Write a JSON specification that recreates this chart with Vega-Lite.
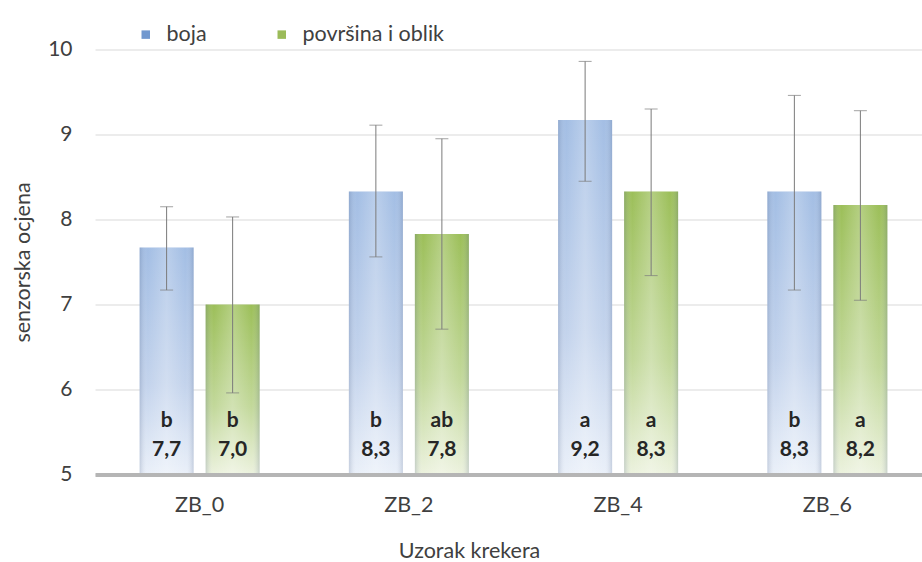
{
  "$schema": "https://vega.github.io/schema/vega-lite/v6.json",
  "width": 827,
  "height": 425,
  "autosize": {"type": "none"},
  "padding": {"left": 95, "top": 49.5, "right": 0, "bottom": 87.5},
  "background": "white",
  "data": {
    "values": [
      {"sample": "ZB_0", "series": "boja", "mean": 7.67, "low": 7.17, "high": 8.15, "letter": "b"},
      {"sample": "ZB_0", "series": "površina i oblik", "mean": 7.0, "low": 5.96, "high": 8.03, "letter": "b"},
      {"sample": "ZB_2", "series": "boja", "mean": 8.33, "low": 7.56, "high": 9.11, "letter": "b"},
      {"sample": "ZB_2", "series": "površina i oblik", "mean": 7.83, "low": 6.71, "high": 8.95, "letter": "ab"},
      {"sample": "ZB_4", "series": "boja", "mean": 9.17, "low": 8.45, "high": 9.86, "letter": "a"},
      {"sample": "ZB_4", "series": "površina i oblik", "mean": 8.33, "low": 7.34, "high": 9.3, "letter": "a"},
      {"sample": "ZB_6", "series": "boja", "mean": 8.33, "low": 7.17, "high": 9.46, "letter": "b"},
      {"sample": "ZB_6", "series": "površina i oblik", "mean": 8.17, "low": 7.05, "high": 9.28, "letter": "a"}
    ]
  },
  "encoding": {
    "x": {
      "field": "sample",
      "type": "nominal",
      "scale": {"range": [0, 837], "paddingInner": 0, "paddingOuter": 0},
      "axis": {
        "title": "Uzorak krekera",
        "labelAngle": 0,
        "ticks": false,
        "grid": false,
        "domain": true,
        "domainColor": "#b5b5b5",
        "domainWidth": 4,
        "labelPadding": 20,
        "labelFontSize": 21.5,
        "labelColor": "#404040",
        "titleFontSize": 21.5,
        "titleFontWeight": "normal",
        "titleColor": "#404040",
        "titlePadding": 24,
        "titleX": 374,
        "zindex": 1
      }
    },
    "xOffset": {
      "field": "series",
      "type": "nominal",
      "scale": {"paddingInner": 0.1818, "paddingOuter": 0.676}
    }
  },
  "layer": [
    {
      "mark": {"type": "bar", "opacity": 0},
      "encoding": {
        "y": {
          "field": "mean",
          "type": "quantitative",
          "scale": {"domain": [5, 10], "zero": false, "nice": false},
          "axis": {
            "title": "senzorska ocjena",
            "values": [5, 6, 7, 8, 9, 10],
            "format": "d",
            "ticks": false,
            "domain": false,
            "grid": true,
            "gridColor": "#d9d9d9",
            "gridWidth": 1,
            "labelPadding": 23,
            "labelFontSize": 21,
            "labelColor": "#404040",
            "titleFontSize": 21.5,
            "titleFontWeight": "normal",
            "titleColor": "#404040",
            "titleX": -72,
            "titleY": 212.5,
            "titleBaseline": "middle"
          }
        },
        "y2": {"datum": 5},
        "color": {
          "field": "series",
          "type": "nominal",
          "scale": {"domain": ["boja", "površina i oblik"], "range": ["#7198cf", "#9bbb59"]},
          "legend": {
            "title": null,
            "orient": "none",
            "direction": "horizontal",
            "legendX": 40,
            "legendY": -26,
            "symbolType": "square",
            "symbolSize": 72,
            "symbolOpacity": 1,
            "symbolStrokeWidth": 0,
            "labelFontSize": 21.5,
            "labelColor": "#404040",
            "labelOffset": 10,
            "columnPadding": 64,
            "padding": 0
          }
        }
      }
    },
    {
      "transform": [{"filter": "datum.series === 'boja'"}],
      "mark": {
        "type": "bar",
        "fill": {
          "gradient": "linear",
          "x1": 0, "y1": 0, "x2": 0, "y2": 1,
          "stops": [
            {"offset": 0, "color": "#a3bee4"},
            {"offset": 0.6, "color": "#c3d3ec"},
            {"offset": 1, "color": "#eaf0f9"}
          ]
        }
      },
      "encoding": {
        "y": {"field": "mean", "type": "quantitative"},
        "y2": {"datum": 5}
      }
    },
    {
      "transform": [{"filter": "datum.series !== 'boja'"}],
      "mark": {
        "type": "bar",
        "fill": {
          "gradient": "linear",
          "x1": 0, "y1": 0, "x2": 0, "y2": 1,
          "stops": [
            {"offset": 0, "color": "#9cbf59"},
            {"offset": 0.6, "color": "#c2d89a"},
            {"offset": 1, "color": "#ecf2de"}
          ]
        }
      },
      "encoding": {
        "y": {"field": "mean", "type": "quantitative"},
        "y2": {"datum": 5}
      }
    },
    {
      "mark": {
        "type": "bar",
        "fill": {
          "gradient": "linear",
          "x1": 0, "y1": 0, "x2": 1, "y2": 0,
          "stops": [
            {"offset": 0, "color": "rgba(70,90,130,0.22)"},
            {"offset": 0.15, "color": "rgba(255,255,255,0.0)"},
            {"offset": 0.5, "color": "rgba(255,255,255,0.25)"},
            {"offset": 0.85, "color": "rgba(255,255,255,0.0)"},
            {"offset": 1, "color": "rgba(70,90,130,0.22)"}
          ]
        }
      },
      "encoding": {
        "y": {"field": "mean", "type": "quantitative"},
        "y2": {"datum": 5}
      }
    },
    {
      "mark": {"type": "rule", "color": "#7a7a7a", "strokeWidth": 1},
      "encoding": {
        "y": {"field": "low", "type": "quantitative"},
        "y2": {"field": "high"}
      }
    },
    {
      "mark": {"type": "tick", "color": "#7a7a7a", "size": 13, "thickness": 1, "orient": "horizontal"},
      "encoding": {
        "y": {"field": "low", "type": "quantitative"}
      }
    },
    {
      "mark": {"type": "tick", "color": "#7a7a7a", "size": 13, "thickness": 1, "orient": "horizontal"},
      "encoding": {
        "y": {"field": "high", "type": "quantitative"}
      }
    },
    {
      "mark": {"type": "text", "fontWeight": "bold", "fontSize": 21, "color": "#262626", "baseline": "middle", "dy": -54},
      "encoding": {
        "y": {"datum": 5},
        "text": {"field": "letter"}
      }
    },
    {
      "mark": {"type": "text", "fontWeight": "bold", "fontSize": 21, "color": "#262626", "baseline": "middle", "dy": -25},
      "encoding": {
        "y": {"datum": 5},
        "text": {"field": "mean", "type": "quantitative", "format": ".1f"}
      }
    }
  ],
  "config": {
    "font": "Lato",
    "view": {"stroke": null},
    "locale": {
      "number": {"decimal": ",", "thousands": ".", "grouping": [3], "currency": ["", " €"]}
    }
  }
}
